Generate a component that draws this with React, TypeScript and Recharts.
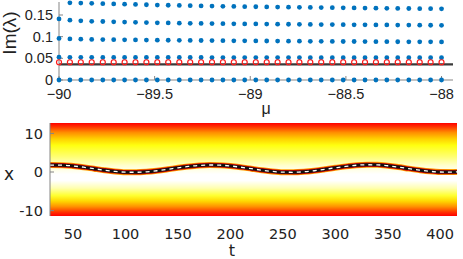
import React from 'react';
import {
  ScatterChart,
  Scatter,
  ComposedChart,
  Line,
  XAxis,
  YAxis,
  ReferenceLine,
  ReferenceArea,
  Label,
} from 'recharts';

// top panel: Im(lambda) vs mu
const mu = [
  -90, -89.943, -89.886, -89.829, -89.771, -89.714, -89.657, -89.6, -89.543, -89.486, -89.429, -89.371,
  -89.314, -89.257, -89.2, -89.143, -89.086, -89.029, -88.971, -88.914, -88.857, -88.8, -88.743, -88.686,
  -88.629, -88.571, -88.514, -88.457, -88.4, -88.343, -88.286, -88.229, -88.171, -88.114, -88.057, -88,
];

const imZero = [
  0, 0, 0, 0, 0, 0, 0, 0, 0, 0, 0, 0, 0, 0, 0, 0, 0, 0, 0, 0, 0, 0, 0, 0, 0, 0, 0, 0, 0, 0, 0, 0, 0, 0, 0, 0,
];

const imLow = [
  0.0525, 0.0524, 0.0523, 0.0523, 0.0522, 0.0522, 0.0521, 0.0521, 0.052, 0.052, 0.052, 0.0519, 0.0519,
  0.0519, 0.0518, 0.0518, 0.0518, 0.0518, 0.0517, 0.0517, 0.0517, 0.0517, 0.0517, 0.0516, 0.0516, 0.0516,
  0.0516, 0.0516, 0.0516, 0.0515, 0.0515, 0.0515, 0.0515, 0.0515, 0.0515, 0.0515,
];

const imMid = [
  0.096, 0.0948, 0.0942, 0.0937, 0.0933, 0.093, 0.0927, 0.0924, 0.0921, 0.0919, 0.0917, 0.0915, 0.0913,
  0.0911, 0.0909, 0.0907, 0.0905, 0.0903, 0.0901, 0.09, 0.0898, 0.0896, 0.0895, 0.0893, 0.0892, 0.089,
  0.0889, 0.0888, 0.0886, 0.0885, 0.0884, 0.0883, 0.0882, 0.0881, 0.088, 0.0879,
];

const imHigh = [
  0.141, 0.138, 0.1365, 0.1355, 0.135, 0.1343, 0.1337, 0.133, 0.1325, 0.132, 0.1316, 0.1312, 0.1308,
  0.1305, 0.1302, 0.13, 0.1297, 0.1295, 0.1293, 0.129, 0.1288, 0.1286, 0.1284, 0.1282, 0.128, 0.1278,
  0.1276, 0.1274, 0.1273, 0.1271, 0.127, 0.1268, 0.1267, 0.1265, 0.1264, 0.1262,
];

// first point sits above the axis top, not drawn
const imTop = [
  null, 0.178, 0.1775, 0.177, 0.1762, 0.1755, 0.175, 0.1743, 0.1737, 0.173, 0.1725, 0.172, 0.1715, 0.171,
  0.1705, 0.17, 0.1697, 0.1693, 0.169, 0.1687, 0.1683, 0.168, 0.1677, 0.1674, 0.1671, 0.1668, 0.1665,
  0.1663, 0.166, 0.1658, 0.1655, 0.1652, 0.165, 0.1647, 0.1645, 0.1642,
];

const imRing = [
  0.041, 0.041, 0.041, 0.041, 0.041, 0.041, 0.041, 0.041, 0.041, 0.041, 0.041, 0.041, 0.041, 0.041, 0.041,
  0.041, 0.041, 0.041, 0.041, 0.041, 0.041, 0.041, 0.041, 0.041, 0.041, 0.041, 0.041, 0.041, 0.041, 0.041,
  0.041, 0.041, 0.041, 0.041, 0.041, 0.041,
];

const imThreshold = 0.036;
const muTicks = [-90, -89.5, -89, -88.5, -88];
const imTicks = [0, 0.05, 0.1, 0.15];

// bottom panel: trajectory x(t) over the density map
const tValues = [
  28, 40, 50, 60, 70, 80, 90, 100, 110, 120, 130, 140, 150, 160, 170, 180, 190, 200, 210, 220, 230, 240,
  250, 260, 270, 280, 290, 300, 310, 320, 330, 340, 350, 360, 370, 380, 390, 400, 410, 416,
];
const xPath = [
  1.8, 1.77, 1.56, 1.24, 0.85, 0.47, 0.15, -0.04, -0.07, 0.06, 0.33, 0.69, 1.09, 1.44, 1.7, 1.82, 1.77,
  1.56, 1.24, 0.85, 0.47, 0.15, -0.04, -0.07, 0.06, 0.33, 0.69, 1.09, 1.46, 1.75, 1.88, 1.85, 1.62, 1.28,
  0.88, 0.5, 0.18, 0.0, -0.02, 0.03,
];
const tTicks = [50, 100, 150, 200, 250, 300, 350, 400];
const xTicks = [-10, 0, 10];

const heatStops = [
  [0, '#ff0000'],
  [0.04, '#ff3300'],
  [0.1, '#ff8c00'],
  [0.17, '#ffd000'],
  [0.24, '#ffff10'],
  [0.36, '#ffff70'],
  [0.46, '#ffffd0'],
  [0.55, '#ffffff'],
  [0.62, '#ffffff'],
  [0.7, '#ffffb0'],
  [0.78, '#ffff30'],
  [0.84, '#ffd800'],
  [0.9, '#ff9000'],
  [0.96, '#ff3000'],
  [1, '#ff0000'],
];

const rows = [imZero, imLow, imMid, imHigh, imTop];
const toPoints = (vals: (number | null)[]) =>
  mu.map((m, i) => ({ mu: m, v: vals[i] })).filter((p) => p.v !== null);

const pathData = tValues.map((t, i) => ({ t, x: xPath[i] }));

const axisGray = '#858585';
const topFont = '"Liberation Sans", Arial, sans-serif';
const botFont = '"DejaVu Sans", sans-serif';
const minus = (v: number) => String(v).replace('-', '\u2212');

const blueDot = (p: any) => <circle cx={p.cx} cy={p.cy} r={2.4} fill="#0072bd" />;
const redRing = (p: any) => (
  <circle cx={p.cx} cy={p.cy} r={2.5} fill="none" stroke="#ff1a1a" strokeWidth={1.2} />
);

export default function App() {
  const topTick = { fill: '#222', fontSize: 14.5, fontFamily: topFont };
  const botTick = { fill: '#222', fontSize: 14.5, fontFamily: botFont };
  return (
    <div style={{ position: 'absolute', left: 0, top: 0, width: 463, height: 259, background: '#fff' }}>
      <div style={{ position: 'absolute', left: 0, top: 0 }}>
        <ScatterChart width={463} height={120} margin={{ top: 2, right: 10, bottom: 0, left: 0 }}>
          <XAxis
            type="number"
            dataKey="mu"
            domain={[-90, -87.94]}
            ticks={muTicks}
            interval={0}
            tickFormatter={minus}
            height={40}
            tickSize={-4}
            tickMargin={13}
            axisLine={{ stroke: axisGray }}
            tickLine={{ stroke: axisGray }}
            tick={topTick}
          >
            <Label
              content={() => (
                <text x={266} y={114} textAnchor="middle" fontSize={16} fontFamily={topFont} fill="#222">
                  μ
                </text>
              )}
            />
          </XAxis>
          <XAxis
            xAxisId="top"
            orientation="top"
            type="number"
            domain={[-90, -87.94]}
            ticks={muTicks}
            interval={0}
            height={0}
            tickSize={-4}
            tick={false}
            axisLine={{ stroke: axisGray }}
            tickLine={{ stroke: axisGray }}
          />
          <YAxis
            type="number"
            dataKey="v"
            domain={[0, 0.18]}
            ticks={imTicks}
            interval={0}
            width={59}
            tickSize={-4}
            tickMargin={10}
            axisLine={{ stroke: axisGray }}
            tickLine={{ stroke: axisGray }}
            tick={topTick}
          >
            <Label
              content={() => (
                <text
                  x={16}
                  y={33}
                  transform="rotate(-90 16 33)"
                  textAnchor="middle"
                  fontSize={19}
                  fontFamily={topFont}
                  fill="#222"
                >
                  Im(λ)
                </text>
              )}
            />
          </YAxis>
          <YAxis
            yAxisId="right"
            orientation="right"
            type="number"
            domain={[0, 0.18]}
            ticks={imTicks}
            interval={0}
            width={0}
            tickSize={-4}
            tick={false}
            axisLine={{ stroke: axisGray }}
            tickLine={{ stroke: axisGray }}
          />
          {rows.map((r, k) => (
            <Scatter key={k} data={toPoints(r)} shape={blueDot} isAnimationActive={false} />
          ))}
          <Scatter data={toPoints(imRing)} shape={redRing} isAnimationActive={false} />
          <ReferenceLine y={imThreshold} stroke="#3a3a3a" strokeWidth={2.2} />
        </ScatterChart>
      </div>
      <div style={{ position: 'absolute', left: 0, top: 110 }}>
        <ComposedChart width={463} height={149} data={pathData} margin={{ top: 13, right: 6, bottom: 0, left: 0 }}>
          <defs>
            <linearGradient id="heatGrad" x1="0" y1="0" x2="0" y2="1">
              {heatStops.map(([o, c]) => (
                <stop key={String(o)} offset={o as number} stopColor={c as string} />
              ))}
            </linearGradient>
          </defs>
          <XAxis
            type="number"
            dataKey="t"
            domain={[28, 416]}
            ticks={tTicks}
            interval={0}
            height={43}
            tickSize={-4}
            tickMargin={17}
            axisLine={false}
            tickLine={false}
            tick={botTick}
          >
            <Label
              content={() => (
                <text x={232} y={146} textAnchor="middle" fontSize={16} fontFamily={botFont} fill="#222">
                  t
                </text>
              )}
            />
          </XAxis>
          <YAxis
            type="number"
            domain={[-11.4, 12.7]}
            ticks={xTicks}
            interval={0}
            width={50}
            tickSize={-4}
            tickMargin={11}
            axisLine={{ stroke: axisGray }}
            tickLine={{ stroke: axisGray }}
            tick={botTick}
          >
            <Label
              content={() => (
                <text x={9} y={70} textAnchor="middle" fontSize={17} fontFamily={botFont} fill="#222">
                  x
                </text>
              )}
            />
          </YAxis>
          <YAxis
            yAxisId="right"
            orientation="right"
            type="number"
            domain={[-11.4, 12.7]}
            ticks={xTicks}
            interval={0}
            width={0}
            tickSize={-4}
            tick={false}
            axisLine={{ stroke: axisGray }}
            tickLine={{ stroke: axisGray }}
          />
          <ReferenceArea
            x1={28}
            x2={416}
            y1={-11.4}
            y2={12.7}
            fill="url(#heatGrad)"
            fillOpacity={1}
            stroke="none"
          />
          <Line dataKey="x" type="monotone" stroke="#ffa000" strokeWidth={6} dot={false} isAnimationActive={false} />
          <Line dataKey="x" type="monotone" stroke="#d00000" strokeWidth={4.4} dot={false} isAnimationActive={false} />
          <Line dataKey="x" type="monotone" stroke="#111" strokeWidth={3} dot={false} isAnimationActive={false} />
          <Line
            dataKey="x"
            type="monotone"
            stroke="#fff"
            strokeWidth={1.3}
            strokeDasharray="4 4"
            dot={false}
            isAnimationActive={false}
          />
        </ComposedChart>
      </div>
    </div>
  );
}
